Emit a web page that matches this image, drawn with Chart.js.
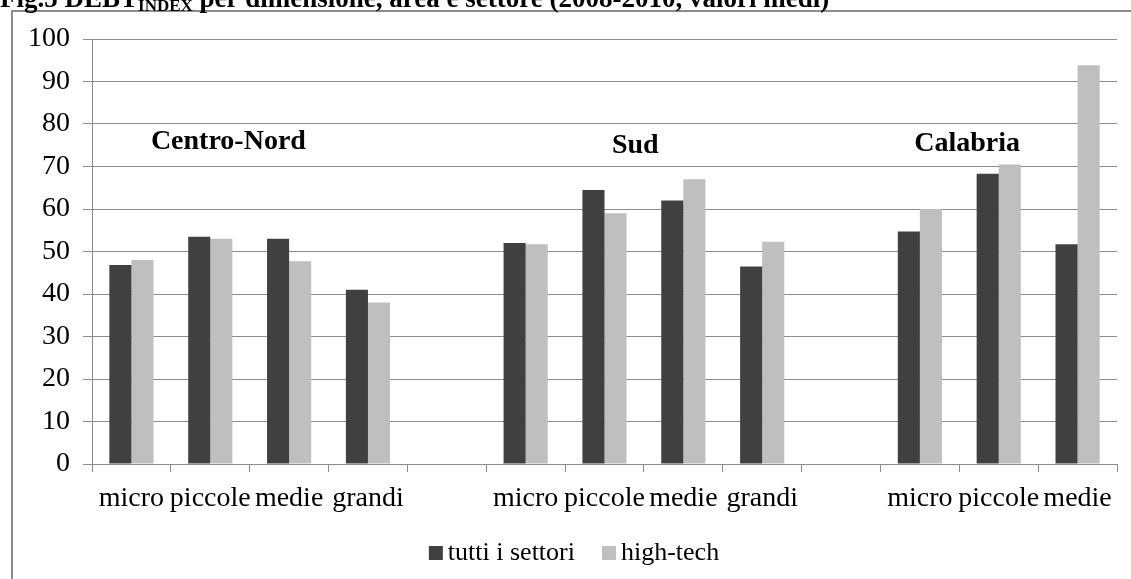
<!DOCTYPE html>
<html>
<head>
<meta charset="utf-8">
<script src="https://cdn.jsdelivr.net/npm/chart.js@4.4.0/dist/chart.umd.min.js"></script>
<style>
  html, body { margin: 0; padding: 0; background: #ffffff; }
  #wrap { position: absolute; left: 0; top: 0; width: 1131px; height: 579px; }
</style>
</head>
<body>
<div id="wrap"><canvas id="c" width="1131" height="579"></canvas></div>
<script>
// Size classes, grouped by area (empty slots separate the groups)
const categories = ['micro', 'piccole', 'medie', 'grandi', '',
                    'micro', 'piccole', 'medie', 'grandi', '',
                    'micro', 'piccole', 'medie'];

// Average DEBT index 2008-2010
const tuttiSettori = [46.8, 53.5, 53.0, 41.0, null,
                      52.0, 64.5, 62.0, 46.5, null,
                      54.7, 68.3, 51.7];
const highTech     = [48.0, 53.0, 47.7, 38.0, null,
                      51.7, 59.0, 67.0, 52.3, null,
                      60.0, 70.5, 93.8];

const yTicks = [0, 10, 20, 30, 40, 50, 60, 70, 80, 90, 100];

// Area names: [text, position along the category axis (in slots), y value]
const areaLabels = [
  ['Centro-Nord', 1.73, 75.8],
  ['Sud', 6.89, 74.9],
  ['Calabria', 11.1, 75.3]
];

const SERIF = '"Liberation Serif", "Times New Roman", serif';

const frame = {
  id: 'frame',
  beforeDraw(chart) {
    const ctx = chart.ctx;
    ctx.save();
    ctx.fillStyle = '#ffffff';
    ctx.fillRect(0, 0, chart.width, chart.height);
    ctx.strokeStyle = '#8c8c8c';
    ctx.lineWidth = 2;
    ctx.strokeRect(12, 11, chart.width + 20, chart.height + 20);
    // Title
    ctx.fillStyle = '#000000';
    ctx.textBaseline = 'alphabetic';
    ctx.font = 'bold 27px ' + SERIF;
    let x = 0;
    ctx.fillText('Fig.5 DEBT', x, 7);
    x += ctx.measureText('Fig.5 DEBT').width;
    ctx.font = 'bold 17px ' + SERIF;
    ctx.fillText('INDEX', x, 11);
    x += ctx.measureText('INDEX').width;
    ctx.font = 'bold 27px ' + SERIF;
    ctx.fillText(' per dimensione, area e settore (2008-2010, valori medi)', x, 7);
    ctx.restore();
  },
  afterDatasetsDraw(chart) {
    const ctx = chart.ctx;
    const xs = chart.scales.x, ys = chart.scales.y;
    const step = (xs.right - xs.left) / categories.length;
    ctx.save();
    ctx.fillStyle = '#000000';
    ctx.font = 'bold 28px ' + SERIF;
    ctx.textAlign = 'center';
    ctx.textBaseline = 'middle';
    areaLabels.forEach(([t, pos, v]) => {
      ctx.fillText(t, xs.left + step * pos, ys.getPixelForValue(v));
    });
    ctx.restore();
  },
  afterDraw(chart) {
    // Legend row under the axis labels: square swatch, then series name
    const ctx = chart.ctx;
    const items = chart.data.datasets;
    ctx.save();
    ctx.font = '26px ' + SERIF;
    ctx.textBaseline = 'middle';
    const box = 14, gap = 5, spacing = 27;
    let total = 0;
    items.forEach((d, i) => {
      total += box + gap + ctx.measureText(d.label).width + (i ? spacing : 0);
    });
    let x = 574 - total / 2;
    const cy = 553;
    items.forEach((d, i) => {
      if (i) x += spacing;
      ctx.fillStyle = d.backgroundColor;
      ctx.fillRect(x, cy - box / 2, box, box);
      x += box + gap;
      ctx.fillStyle = '#000000';
      ctx.fillText(d.label, x, cy);
      x += ctx.measureText(d.label).width;
    });
    ctx.restore();
  }
};

new Chart(document.getElementById('c'), {
  type: 'bar',
  data: {
    labels: categories,
    datasets: [
      { label: 'tutti i settori', data: tuttiSettori, backgroundColor: '#404040' },
      { label: 'high-tech', data: highTech, backgroundColor: '#bfbfbf' }
    ]
  },
  options: {
    responsive: false,
    animation: false,
    devicePixelRatio: 1,
    layout: { padding: { left: 12, right: 14, top: 39, bottom: 55 } },
    datasets: { bar: { barPercentage: 1.0, categoryPercentage: 0.56 } },
    scales: {
      x: {
        offset: true,
        grid: { offset: true, drawOnChartArea: false, drawTicks: true, tickLength: 8, color: '#8c8c8c' },
        border: { color: '#8c8c8c', width: 1 },
        ticks: { color: '#000000', font: { family: SERIF, size: 28 }, padding: 10, maxRotation: 0, autoSkip: false },
        afterFit(s) { s.height = 60; }
      },
      y: {
        min: 0, max: 100,
        afterBuildTicks(s) { s.ticks = yTicks.map(v => ({ value: v })); },
        grid: { color: '#8c8c8c', tickLength: 9 },
        border: { color: '#8c8c8c', width: 1 },
        ticks: { color: '#000000', font: { family: SERIF, size: 28 }, padding: 13 },
        afterFit(s) { s.width = 80; }
      }
    },
    plugins: {
      legend: { display: false },
      tooltip: { enabled: false }
    }
  },
  plugins: [frame]
});
</script>
</body>
</html>
